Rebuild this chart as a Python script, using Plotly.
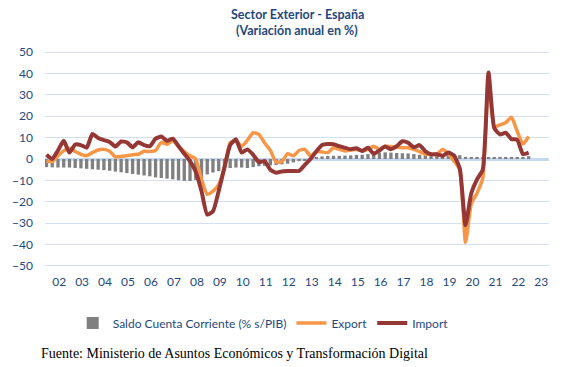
import plotly.graph_objects as go

years = list(range(2002, 2024))
quarters = [f"{y}T{q}" for y in range(2002, 2023) for q in range(1, 5)] + ["2023T1"]
year_labels = [f"{y % 100:02d}" for y in years]

saldo_cc = [
    -3.8, -3.9, -4.0, -4.0,
    -4.0, -4.2, -4.4, -4.6,
    -4.8, -5.0, -5.2, -5.5,
    -5.9, -6.2, -6.6, -7.0,
    -7.3, -7.7, -8.1, -8.6,
    -8.9, -9.2, -9.5, -9.9,
    -10.2, -10.3, -9.8, -8.8,
    -7.2, -6.3, -5.6, -4.8,
    -4.2, -4.0, -4.0, -4.2,
    -3.8, -3.4, -3.2, -3.0,
    -2.8, -2.5, -2.2, -1.6,
    -1.0, -0.5, 0.4, 0.8,
    1.2, 1.4, 1.5, 1.5,
    1.6, 1.7, 1.9, 2.0,
    2.3, 2.6, 2.9, 3.1,
    3.0, 2.8, 2.7, 2.6,
    2.3, 2.0, 1.8, 1.6,
    1.5, 1.6, 1.8, 2.0,
    1.8, 1.0, 0.7, 0.6,
    0.6, 0.7, 0.9, 1.0,
    0.9, 0.8, 0.9, 1.0,
    1.3,
]

export = [
    -1.0, -1.2, 1.5, 3.8,
    5.0, 3.5, 2.2, 1.5,
    3.0, 4.2, 4.5, 3.6,
    1.0, 1.2, 1.5, 2.0,
    2.2, 3.6, 3.5, 4.0,
    7.8, 6.9, 8.5, 6.0,
    3.5, 1.5, 0.0, -9.5,
    -16.5, -15.0, -12.0, -4.0,
    7.6, 8.4, 6.0, 8.8,
    12.3, 11.5, 7.5, 4.0,
    -1.5, -1.2, 2.5, 1.5,
    4.0, 4.5, 1.4, 3.6,
    3.3, 3.0, 5.3, 4.5,
    3.8, 4.2, 4.4, 3.8,
    4.5, 6.0, 4.5, 6.0,
    5.8, 5.5, 5.3, 5.3,
    4.5, 3.5, 2.3, 2.2,
    2.2, 4.5, 2.5, -1.0,
    -5.0, -39.0, -21.0, -16.0,
    -9.0, 38.0, 15.0, 16.0,
    17.0, 19.5, 13.0, 7.0,
    10.5,
]

imports = [
    2.0, 0.0, 4.0, 8.5,
    3.0, 6.8, 6.5, 5.3,
    11.7, 9.8, 8.8, 8.0,
    5.8, 8.2, 7.8, 5.5,
    7.8, 6.5, 6.0, 9.5,
    10.5, 8.5, 9.5, 6.0,
    2.5, -1.0, -6.0, -15.0,
    -26.0, -24.5, -15.0, -4.0,
    6.5, 9.2, 3.0, 4.5,
    2.0, -1.5, -1.0, -5.0,
    -6.4, -5.8, -5.6, -5.6,
    -5.6, -2.8, 0.0, 3.5,
    6.5, 7.0, 6.9, 6.0,
    5.2, 4.6, 5.0, 3.8,
    5.3, 2.4, 4.0, 5.8,
    4.6, 6.0, 8.3, 7.6,
    5.5, 6.5, 3.6, 2.2,
    2.2, 1.5, 3.0, 1.6,
    -4.5, -31.0, -16.0, -9.5,
    -5.0, 40.5, 14.5, 11.5,
    12.3, 9.3, 9.0, 2.3,
    3.0,
]

x = list(range(len(quarters)))
tick_pos = [2.2 + 4 * k for k in range(len(years))]

BLUE = "#1F497D"
FONT = "Lato"

fig = go.Figure()
fig.add_trace(go.Bar(
    x=x, y=saldo_cc, name="Saldo Cuenta Corriente (% s/PIB)",
    marker=dict(color="#808080", line=dict(width=0)),
))
fig.add_trace(go.Scatter(
    x=x, y=export, name="Export", mode="lines",
    line=dict(color="#F79646", width=3.5, shape="spline", smoothing=0.5),
))
fig.add_trace(go.Scatter(
    x=x, y=imports, name="Import", mode="lines",
    line=dict(color="#953735", width=4, shape="spline", smoothing=0.5),
))

# page body has an 8px default margin: figure is sized so it ends at the window edge
fig.update_layout(
    width=559, height=359,
    margin=dict(l=37, r=18, t=42, b=99, autoexpand=False),
    paper_bgcolor="white", plot_bgcolor="white",
    bargap=0.42,
    showlegend=True,
    legend=dict(
        orientation="h", x=0.055, xanchor="left", y=-0.252, yanchor="middle",
        font=dict(family=FONT, size=12, color=BLUE),
        itemwidth=30, bgcolor="rgba(0,0,0,0)",
    ),
    font=dict(family=FONT, size=12, color=BLUE),
    annotations=[
        dict(text="<b>Sector Exterior - España</b>", xref="paper", yref="paper",
             x=0.5, y=1.161, xanchor="center", yanchor="middle", showarrow=False,
             font=dict(family=FONT, size=12.5, color=BLUE)),
        dict(text="<b>(Variación anual en %)</b>", xref="paper", yref="paper",
             x=0.5, y=1.090, xanchor="center", yanchor="middle", showarrow=False,
             font=dict(family=FONT, size=12.5, color=BLUE)),
        dict(text="Fuente: Ministerio de Asuntos Económicos y Transformación Digital",
             xref="paper", yref="paper", x=-0.012, y=-0.394, xanchor="left",
             yanchor="middle", showarrow=False,
             font=dict(family="Liberation Serif", size=14, color="black")),
    ],
)
fig.update_xaxes(
    range=[-0.26, 87.54], tickmode="array", tickvals=tick_pos, ticktext=year_labels,
    showgrid=False, zeroline=False, showline=False, ticks="", automargin=False,
    tickfont=dict(family=FONT, size=12, color=BLUE), ticklabelstandoff=5,
)
fig.update_yaxes(
    range=[-51, 51], tickmode="array", tickvals=list(range(-50, 51, 10)),
    showgrid=True, gridcolor="#D3E0F1", gridwidth=1,
    zeroline=True, zerolinecolor="#C6D9F1", zerolinewidth=3,
    showline=False, ticks="", automargin=False,
    tickfont=dict(family=FONT, size=12, color=BLUE), ticklabelstandoff=11,
)

fig.write_html("out.html")
